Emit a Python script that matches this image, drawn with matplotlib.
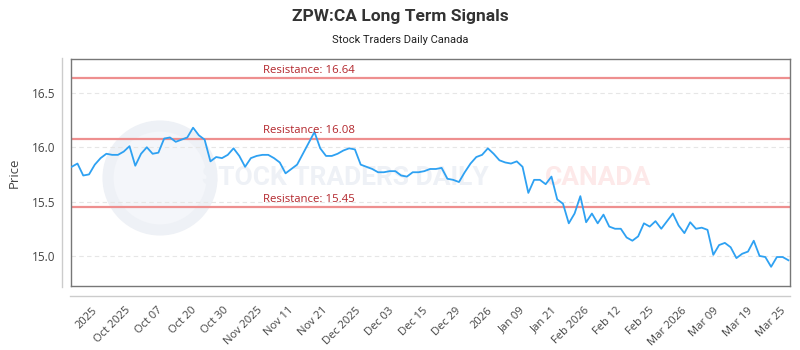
import matplotlib
matplotlib.use('Agg')
import matplotlib.pyplot as plt
from matplotlib.patches import Circle
from matplotlib.lines import Line2D
from matplotlib.transforms import IdentityTransform
import numpy as np

# ---- data ----
prices = [
    15.82, 15.85, 15.74, 15.75, 15.84, 15.90, 15.94, 15.93, 15.93, 15.96,
    16.01, 15.83, 15.94, 16.00, 15.94, 15.95, 16.08, 16.09, 16.05, 16.07,
    16.09, 16.18, 16.11, 16.07, 15.87, 15.91, 15.90, 15.93, 15.99, 15.92,
    15.82, 15.90, 15.92, 15.93, 15.93, 15.90, 15.86, 15.76, 15.80, 15.84,
    15.94, 16.04, 16.14, 15.99, 15.92, 15.92, 15.94, 15.97, 15.99, 15.98,
    15.84, 15.82, 15.80, 15.77, 15.77, 15.78, 15.78, 15.74, 15.73, 15.77,
    15.77, 15.78, 15.80, 15.80, 15.81, 15.71, 15.70, 15.68, 15.77, 15.85,
    15.91, 15.93, 15.99, 15.94, 15.88, 15.86, 15.85, 15.87, 15.82, 15.58,
    15.70, 15.70, 15.66, 15.73, 15.52, 15.48, 15.30, 15.39, 15.55, 15.31,
    15.39, 15.30, 15.38, 15.27, 15.25, 15.25, 15.17, 15.14, 15.18, 15.30,
    15.27, 15.32, 15.25, 15.32, 15.39, 15.28, 15.21, 15.31, 15.25, 15.26,
    15.24, 15.01, 15.10, 15.12, 15.08, 14.98, 15.02, 15.04, 15.14, 15.00,
    14.99, 14.90, 14.99, 14.99, 14.96,
]
tick_labels = ["2025", "Oct 2025", "Oct 07", "Oct 20", "Oct 30", "Nov 2025",
               "Nov 11", "Nov 21", "Dec 2025", "Dec 03", "Dec 15", "Dec 29",
               "2026", "Jan 09", "Jan 21", "Feb 2026", "Feb 12", "Feb 25",
               "Mar 2026", "Mar 09", "Mar 19", "Mar 25"]
tick_positions = [3.5, 9.2, 14.7, 20.6, 26.1, 32.0, 37.5, 43.3, 49.0, 54.8,
                  60.6, 66.3, 71.9, 77.4, 83.0, 88.6, 94.2, 99.8, 105.5,
                  111.0, 116.8, 122.5]
resistance_levels = [16.64, 16.08, 15.45]
y_ticks = [15.0, 15.5, 16.0, 16.5]

title = "ZPW:CA Long Term Signals"
subtitle = "Stock Traders Daily Canada"

W, H = 800, 350
fig = plt.figure(figsize=(8, 3.5), dpi=100)
ax = fig.add_axes([70.7 / W, 1 - 285.6 / H, (790 - 70.7) / W, (285.6 - 59) / H])
ax.set_zorder(2)
ax.set_facecolor('none')

# watermark (drawn behind the axes)
fig.add_artist(Circle((160, H - 178), 52, transform=IdentityTransform(),
                      facecolor='#f4f6fa', edgecolor='#eef1f6', lw=8, zorder=0))
fig.text(202 / W, 1 - 178 / H, "STOCK TRADERS DAILY", fontsize=19, fontweight='bold',
         family=['Roboto', 'DejaVu Sans'], color='#eef1f6',
         va='center', ha='left', zorder=0)
fig.text(545 / W, 1 - 178 / H, "CANADA", fontsize=19, fontweight='bold',
         family=['Roboto', 'DejaVu Sans'], color='#fde9e9',
         va='center', ha='left', zorder=0)

x = np.arange(len(prices))
ax.plot(x, prices, color='#2ea1f2', lw=1.3, zorder=3)
for r in resistance_levels:
    ax.axhline(r, color='#ee8f8f', lw=1.6, zorder=2)
    ax.annotate(f"Resistance: {r:.2f}", xy=(33.1, r), xytext=(0, 1.5),
                textcoords='offset points', color='#b3262c', fontsize=8.2,
                family=['Open Sans', 'DejaVu Sans'], ha='left', va='bottom', zorder=4)

ax.set_xlim(-0.17, 124.27)
ax.set_ylim(14.727, 16.812)
ax.set_yticks(y_ticks)
ax.set_yticklabels([f"{v:.1f}" for v in y_ticks])
ax.set_xticks(tick_positions)
ax.set_xticklabels(tick_labels, rotation=45, ha='right', rotation_mode='anchor')
ax.tick_params(axis='x', length=0, pad=14, labelsize=8, labelcolor='#444444')
ax.tick_params(axis='y', length=0, pad=11, labelsize=8.5, labelcolor='#444444')
for lab in ax.get_xticklabels() + ax.get_yticklabels():
    lab.set_family(['Open Sans', 'DejaVu Sans'])

ax.yaxis.grid(True, linestyle=(0, (4, 3)), color='#e6e6e6', lw=0.8, zorder=1)
ax.set_axisbelow(True)
for s in ax.spines.values():
    s.set_color('#777777')
    s.set_linewidth(1.0)

ax.set_ylabel("Price", fontsize=9.5, color='#444444', labelpad=8,
              family=['Open Sans', 'DejaVu Sans'])

# offset axis lines
fig.add_artist(Line2D([62 / W, 62 / W], [1 - 58 / H, 1 - 287 / H],
                      transform=fig.transFigure, color='#cccccc', lw=1))
fig.add_artist(Line2D([70 / W, 790 / W], [1 - 296 / H, 1 - 296 / H],
                      transform=fig.transFigure, color='#cccccc', lw=1))

fig.text(0.5, 1 - 16 / H, title, ha='center', va='center', fontsize=12.5, fontweight='bold',
         color='#333333', family=['Roboto', 'DejaVu Sans'])
fig.text(0.5, 1 - 40 / H, subtitle, ha='center', va='center', fontsize=8,
         color='#222222', family=['Roboto', 'DejaVu Sans'])

fig.savefig("out.png", dpi=100)
